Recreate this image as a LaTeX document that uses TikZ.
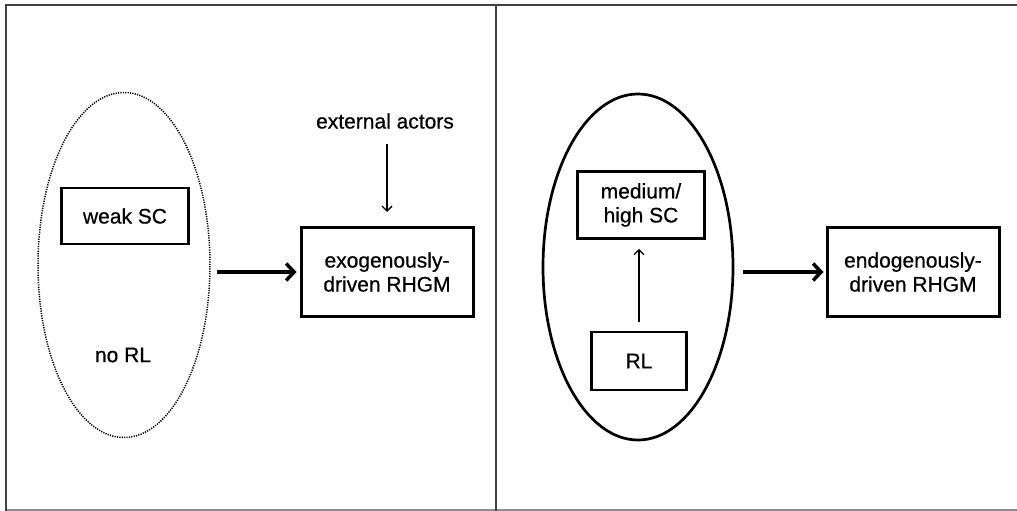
\documentclass[tikz,border=0pt]{standalone}
\usepackage{fontspec}
\setmainfont{Liberation Sans}
\newfontfamily\medfont[FakeBold=0.6]{Liberation Sans}
\usetikzlibrary{arrows.meta,shapes.geometric}
\begin{document}
\begin{tikzpicture}[x=1pt,y=-1pt,
  lbl/.style={font=\medfont\fontsize{21}{24}\selectfont, align=center},
  bigbox/.style={draw, line width=3pt, minimum width=172pt, minimum height=89pt, inner sep=0pt, lbl},
  smallbox/.style={draw, line width=2.6pt, inner sep=0pt, lbl},
  thickarrow/.style={line width=3.5pt, -{Straight Barb[length=8pt,width=17pt]}},
  thinarrow/.style={line width=1.3pt, -{Straight Barb[length=5pt,width=10pt]}},
  framel/.style={line width=2pt, draw=black!75}]
\useasboundingbox (0,0) rectangle (1017,511);
% frame
\draw[line width=1.5pt, draw=black!45] (5,510) -- (1017,510);
\draw[framel] (5.5,511) -- (5.5,5) -- (1017,5);
\draw[framel] (496,5) -- (496,511);
% left panel
\node[ellipse, draw, line width=1.5pt, dash pattern=on 1.2pt off 1.2pt, minimum width=172pt, minimum height=345pt, inner sep=0pt] (e1) at (124,265) {};
\node[smallbox, minimum width=127pt, minimum height=56pt] (wsc) at (125,216) {weak SC};
\node[lbl, inner sep=0pt] (norl) at (123,355) {no RL};
\node[lbl, inner sep=0pt] (ext) at (385,121) {external actors};
\node[bigbox] (exo) at (387,272) {exogenously-\\driven RHGM};
\draw[thinarrow, shorten <=15pt, shorten >=14pt] (ext.south -| exo.north) -- (exo.north);
\draw[thickarrow, shorten <=6pt, shorten >=3pt] (e1.east |- exo.west) -- (exo.west);
% right panel
\node[ellipse, draw, line width=2.7pt, minimum width=190pt, minimum height=346pt, inner sep=0pt] (e2) at (638,267) {};
\node[smallbox, minimum width=127pt, minimum height=67pt] (mh) at (641,205) {medium/\\high SC};
\node[smallbox, minimum width=95pt, minimum height=58pt] (rl) at (639,361) {RL};
\draw[thinarrow, shorten <=9pt, shorten >=9pt] (rl.north) -- (rl.north |- mh.south);
\node[bigbox] (endo) at (913,272) {endogenously-\\driven RHGM};
\draw[thickarrow, shorten <=9pt, shorten >=2pt] (e2.east |- endo.west) -- (endo.west);
\end{tikzpicture}
\end{document}
